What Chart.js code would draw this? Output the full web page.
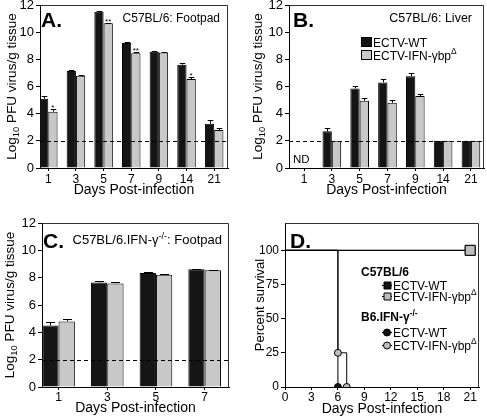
<!DOCTYPE html>
<html>
<head>
<meta charset="utf-8">
<script src="https://cdn.jsdelivr.net/npm/chart.js@4/dist/chart.umd.min.js"></script>
<style>
  body { margin: 0; background: #fff; }
  #wrap { position: relative; width: 487px; height: 418px; overflow: hidden; }
  canvas { position: absolute; }
</style>
</head>
<body>
<div id="wrap">
  <canvas id="chartA" width="243" height="205" style="left:0;top:0"></canvas>
  <canvas id="chartB" width="244" height="205" style="left:243px;top:0"></canvas>
  <canvas id="chartC" width="243" height="213" style="left:0;top:205px"></canvas>
  <canvas id="chartD" width="244" height="213" style="left:243px;top:205px"></canvas>
</div>
<script>
// --- data ---
const daysAB = ['1', '3', '5', '7', '9', '14', '21'];
const daysC = ['1', '3', '5', '7'];

// A. C57BL/6 footpad
const wtA = [5.1, 7.15, 11.5, 9.2, 8.55, 7.6, 3.25];
const wtAErr = [0.2, 0.05, 0.05, 0.08, 0.05, 0.15, 0.3];
const ifnA = [4.15, 6.8, 10.65, 8.45, 8.5, 6.55, 2.8];
const ifnAErr = [0.22, 0.05, 0.05, 0.12, 0.04, 0.15, 0.15];
const starsA = ['*', '', '**', '**', '', '*', ''];

// B. C57BL/6 liver (day 1 not detected)
const wtB = [null, 2.7, 5.85, 6.3, 6.75, 2, 2];
const wtBErr = [0, 0.28, 0.2, 0.25, 0.25, 0, 0];
const ifnB = [null, 2, 4.95, 4.8, 5.3, 2, 2];
const ifnBErr = [0, 0, 0.2, 0.22, 0.15, 0, 0];

// C. C57BL/6.IFN-g-/- footpad
const wtC = [4.5, 7.65, 8.35, 8.62];
const wtCErr = [0.25, 0.1, 0.05, 0.05];
const ifnC = [4.8, 7.58, 8.22, 8.55];
const ifnCErr = [0.15, 0.1, 0.04, 0.04];

const detectLimit = 2;

// D. survival
const survB6Days = [0, 21];
const survB6Wt = [100, 100];
const survB6Ifn = [100, 100];
const survKoWtDays = [0, 6];
const survKoWt = [100, 0];
const survKoIfnDays = [0, 6, 7];
const survKoIfn = [100, 25, 0];
const survTicksX = [0, 3, 6, 9, 12, 15, 18, 21];
const survTicksY = [0, 25, 50, 75, 100];

const FONT = '"Liberation Sans", Arial, Helvetica, sans-serif';
const BLACK = '#151515';
const GRAY = '#c8c8c8';

Chart.defaults.font.family = FONT;
Chart.defaults.color = '#000';

const logTitle = [{t: 'Log'}, {t: '10', sub: true}, {t: ' PFU virus/g tissue'}];
const ifnLabel = [{t: 'ECTV-IFN-γbp'}, {t: 'Δ', sup: true}];

// text with sub/superscripts
function richText(ctx, segs, x, y, size, align, bold) {
    const font = s => (bold ? 'bold ' : '') + s + 'px ' + FONT;
    let total = 0;
    const parts = segs.map(sg => {
        const sz = (sg.sup || sg.sub) ? size * 0.7 : size;
        ctx.font = font(sz);
        const w = ctx.measureText(sg.t).width;
        total += w;
        return {sg, sz, w};
    });
    let cx = align === 'center' ? x - total / 2 : align === 'right' ? x - total : x;
    ctx.textAlign = 'left';
    ctx.textBaseline = 'alphabetic';
    parts.forEach(p => {
        ctx.font = font(p.sz);
        const dy = p.sg.sup ? -size * 0.42 : p.sg.sub ? size * 0.22 : 0;
        ctx.fillText(p.sg.t, cx, y + dy);
        cx += p.w;
    });
}

function xAxis(min, max, values, labels, height, titlePad, tickPad) {
    return {
        type: 'linear', min: min, max: max, offset: false, bounds: 'data',
        afterBuildTicks: s => { s.ticks = values.map(v => ({value: v})); },
        afterFit: s => { s.height = height; s.paddingLeft = 0; s.paddingRight = 0; },
        grid: { drawOnChartArea: false, tickLength: 3, color: '#000', offset: false },
        border: { color: '#000', width: 1 },
        ticks: { autoSkip: false, maxRotation: 0, padding: tickPad, color: '#000', font: {size: 12},
                 callback: (v, i) => labels[i] },
        title: { display: true, text: 'Days Post-infection', color: '#000', font: {size: 14},
                 padding: {top: 0, bottom: titlePad} }
    };
}

function yAxis(max, values, width, fontSize) {
    return {
        min: 0, max: max, bounds: 'data',
        afterBuildTicks: s => { s.ticks = values.map(v => ({value: v})); },
        afterFit: s => { s.width = width; s.paddingTop = 0; s.paddingBottom = 0; },
        grid: { drawOnChartArea: false, tickLength: 4, color: '#000' },
        border: { color: '#000', width: 1 },
        ticks: { padding: 2, color: '#000', font: {size: fontSize} }
    };
}

// error bars, stars and the dashed detection limit
const errorBars = {
    id: 'errorBars',
    afterDatasetsDraw(chart) {
        const {ctx, chartArea: a, scales: {y}} = chart;
        ctx.save();
        ctx.strokeStyle = '#000';
        ctx.fillStyle = '#000';
        ctx.lineWidth = 1;
        chart.data.datasets.forEach((ds, d) => {
            chart.getDatasetMeta(d).data.forEach((bar, i) => {
                const v = ds.data[i].y;
                if (v == null) return;
                const err = ds.err[i];
                const top = y.getPixelForValue(v + err);
                if (err) {
                    const half = Math.min(bar.width * 0.3, 4.5);
                    const bx = Math.round(bar.x) + 0.5;
                    const ty = Math.round(top) + 0.5;
                    ctx.beginPath();
                    ctx.moveTo(bx, bar.y);
                    ctx.lineTo(bx, ty);
                    ctx.moveTo(bx - half, ty);
                    ctx.lineTo(bx + half, ty);
                    ctx.stroke();
                }
                if (ds.stars && ds.stars[i]) {
                    ctx.font = '8px ' + FONT;
                    ctx.textAlign = 'center';
                    ctx.textBaseline = 'alphabetic';
                    ctx.fillText(ds.stars[i], bar.x, top + 1);
                }
            });
        });
        // detection limit
        const ly = Math.round(y.getPixelForValue(detectLimit)) + 0.5;
        ctx.setLineDash([4, 3]);
        ctx.beginPath();
        ctx.moveTo(a.left, ly);
        ctx.lineTo(a.right, ly);
        ctx.stroke();
        ctx.restore();
    }
};

// frame, panel letter, subtitle, y title, legends
function decor(cfg) {
    return {
        id: 'decor',
        afterDraw(chart) {
            const {ctx, chartArea: a} = chart;
            ctx.save();
            ctx.strokeStyle = '#333';
            ctx.lineWidth = 1;
            const l = Math.round(a.left) + 0.5, t = Math.round(a.top) + 0.5;
            const r = Math.round(a.right) - 0.5, b = Math.round(a.bottom);
            ctx.beginPath();
            ctx.moveTo(l, t);
            ctx.lineTo(r, t);
            ctx.lineTo(r, b);
            ctx.stroke();

            ctx.fillStyle = '#000';
            richText(ctx, [{t: cfg.letter}], cfg.lx, cfg.ly, 21, 'left', true);
            if (cfg.sub) richText(ctx, cfg.sub, cfg.sx, cfg.sy, cfg.ssize, 'right');

            // rotated y title
            ctx.save();
            ctx.translate(cfg.tx, (a.top + a.bottom) / 2);
            ctx.rotate(-Math.PI / 2);
            richText(ctx, cfg.ytitle, 0, 0, cfg.tsize, 'center');
            ctx.restore();

            if (cfg.extra) cfg.extra(chart, ctx);
            ctx.restore();
        }
    };
}

function makeBarChart(id, o) {
    const pts = arr => arr.map((v, i) => ({x: i, y: v}));
    const ticks = o.days.map((d, i) => i);
    return new Chart(document.getElementById(id), {
        type: 'bar',
        data: {
            datasets: [
                { label: 'ECTV-WT', data: pts(o.wt), err: o.wtErr,
                  backgroundColor: BLACK, borderColor: '#000', borderWidth: 1,
                  categoryPercentage: 0.67, barPercentage: 1 },
                { label: 'ECTV-IFN-γbpΔ', data: pts(o.ifn), err: o.ifnErr, stars: o.stars,
                  backgroundColor: GRAY, borderColor: '#000', borderWidth: 1,
                  categoryPercentage: 0.67, barPercentage: 1 }
            ]
        },
        options: {
            responsive: false,
            animation: false,
            layout: { padding: o.pad },
            plugins: { legend: {display: false}, tooltip: {enabled: false} },
            scales: {
                x: xAxis(o.xMin, o.xMax, ticks, o.days, o.xH, o.titlePad, o.tickPad),
                y: yAxis(12, [0, 2, 4, 6, 8, 10, 12], o.yW, 13)
            }
        },
        plugins: [errorBars, decor(o.decor)]
    });
}

// B legend and ND label
function drawLegendB(chart, ctx) {
    const {x, y} = chart.scales;
    ctx.lineWidth = 1;
    ctx.strokeStyle = '#000';
    ctx.fillStyle = BLACK;
    ctx.fillRect(118, 37, 11, 10);
    ctx.strokeRect(118.5, 37.5, 10, 9);
    ctx.fillStyle = GRAY;
    ctx.fillRect(118, 50, 11, 10);
    ctx.strokeRect(118.5, 50.5, 10, 9);
    ctx.fillStyle = '#000';
    richText(ctx, [{t: 'ECTV-WT'}], 130, 46.5, 12, 'left');
    richText(ctx, ifnLabel, 130, 59.5, 12, 'left');
    richText(ctx, [{t: 'ND'}], x.getPixelForValue(-0.1), y.getPixelForValue(0.4), 11.5, 'center');
}

// D legend
function legendRow(ctx, x, y, shape, fill, segs) {
    ctx.strokeStyle = '#000';
    ctx.lineWidth = 1;
    ctx.beginPath();
    ctx.moveTo(x, y + 0.5);
    ctx.lineTo(x + 10, y + 0.5);
    ctx.stroke();
    ctx.fillStyle = fill;
    ctx.beginPath();
    if (shape === 'rect') ctx.rect(x + 2, y - 3, 7, 7);
    else ctx.arc(x + 5, y + 0.5, 3.5, 0, Math.PI * 2);
    ctx.fill();
    ctx.stroke();
    ctx.fillStyle = '#000';
    richText(ctx, segs, x + 11, y + 4.5, 12, 'left');
}

function drawLegendD(chart, ctx) {
    richText(ctx, [{t: 'C57BL/6'}], 118, 71, 12, 'left', true);
    legendRow(ctx, 139, 80, 'rect', BLACK, [{t: 'ECTV-WT'}]);
    legendRow(ctx, 139, 91, 'rect', '#bdbdbd', ifnLabel);
    richText(ctx, [{t: 'B6.IFN-γ'}, {t: '-/-', sup: true}], 118, 116, 12, 'left', true);
    legendRow(ctx, 139, 127, 'circle', BLACK, [{t: 'ECTV-WT'}]);
    legendRow(ctx, 139, 140, 'circle', '#bdbdbd', ifnLabel);
}

function initCharts() {
    makeBarChart('chartA', {
        wt: wtA, wtErr: wtAErr, ifn: ifnA, ifnErr: ifnAErr, stars: starsA, days: daysAB,
        xMin: -0.3, xMax: 6.5, xH: 37, yW: 40, titlePad: 6, tickPad: 1,
        pad: {top: 5, right: 15, left: 0, bottom: 0},
        decor: { letter: 'A.', lx: 41, ly: 27, sub: [{t: 'C57BL/6: Footpad'}], sx: 220, sy: 22, ssize: 12,
                 ytitle: logTitle, tx: 16, tsize: 13.5 }
    });

    makeBarChart('chartB', {
        wt: wtB, wtErr: wtBErr, ifn: ifnB, ifnErr: ifnBErr, days: daysAB,
        xMin: -0.54, xMax: 6.47, xH: 37, yW: 46, titlePad: 6, tickPad: 1,
        pad: {top: 5, right: 3, left: 0, bottom: 0},
        decor: { letter: 'B.', lx: 50, ly: 27, sub: [{t: 'C57BL/6: Liver'}], sx: 229, sy: 22, ssize: 12.5,
                 ytitle: logTitle, tx: 19, tsize: 13.5, extra: drawLegendB }
    });

    makeBarChart('chartC', {
        wt: wtC, wtErr: wtCErr, ifn: ifnC, ifnErr: ifnCErr, days: daysC,
        xMin: -0.34, xMax: 3.5, xH: 31, yW: 42, titlePad: 1, tickPad: 0,
        pad: {top: 18, right: 14, left: 0, bottom: 0},
        decor: { letter: 'C.', lx: 43, ly: 43,
                 sub: [{t: 'C57BL/6.IFN-γ'}, {t: '-/-', sup: true}, {t: ': Footpad'}], sx: 222, sy: 39, ssize: 13,
                 ytitle: logTitle, tx: 14, tsize: 13.5 }
    });

    // survival curves
    const pts = (xs, ys) => xs.map((v, i) => ({x: v, y: ys[i]}));
    const line = {borderColor: '#000', borderWidth: 1, stepped: true, fill: false, tension: 0,
                  pointBorderColor: '#000', pointBorderWidth: 1};
    new Chart(document.getElementById('chartD'), {
        type: 'line',
        data: {
            datasets: [
                Object.assign({ label: 'C57BL/6 ECTV-IFN-γbpΔ', data: pts(survB6Days, survB6Ifn), order: 0,
                    pointStyle: 'rect', pointRadius: [0, 7], pointBackgroundColor: '#bdbdbd' }, line),
                Object.assign({ label: 'C57BL/6 ECTV-WT', data: pts(survB6Days, survB6Wt), order: 1,
                    pointStyle: 'rect', pointRadius: [0, 7], pointBackgroundColor: BLACK }, line),
                Object.assign({ label: 'B6.IFN-γ-/- ECTV-IFN-γbpΔ', data: pts(survKoIfnDays, survKoIfn), order: 2,
                    pointStyle: 'circle', pointRadius: [0, 3.5, 3.5], pointBackgroundColor: '#bdbdbd' }, line),
                Object.assign({ label: 'B6.IFN-γ-/- ECTV-WT', data: pts(survKoWtDays, survKoWt), order: 3,
                    pointStyle: 'circle', pointRadius: [0, 3.5], pointBackgroundColor: BLACK }, line)
            ]
        },
        options: {
            responsive: false,
            animation: false,
            layout: { padding: {top: 18, right: 8, left: 0, bottom: 0} },
            plugins: { legend: {display: false}, tooltip: {enabled: false} },
            scales: {
                x: xAxis(0, 22, survTicksX, survTicksX.map(String), 31, 0, 0),
                y: yAxis(120, survTicksY, 42, 12)
            }
        },
        plugins: [decor({ letter: 'D.', lx: 47, ly: 43, ytitle: [{t: 'Percent survival'}],
                          tx: 21, tsize: 13, extra: drawLegendD })]
    });
}

document.addEventListener('DOMContentLoaded', initCharts);
</script>
</body>
</html>
